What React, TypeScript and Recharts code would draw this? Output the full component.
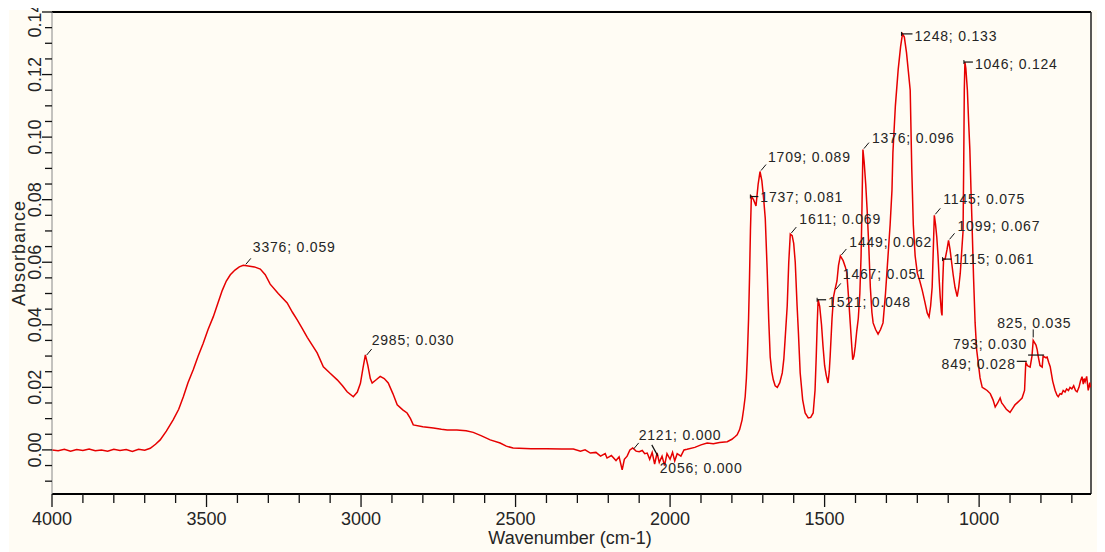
import React from "react";
import { ComposedChart, Line, Scatter, XAxis, YAxis, ReferenceLine } from "recharts";

// ---- Spectrum data (wavenumber cm-1 / absorbance) ----
const wavenumbers = [
  4000, 3980, 3960, 3940, 3920, 3900, 3880, 3860, 3840, 3820,
  3800, 3780, 3760, 3740, 3720, 3700, 3682, 3665, 3650, 3630,
  3608, 3590, 3575, 3560, 3543, 3527, 3511, 3495, 3478, 3463,
  3449, 3436, 3423, 3408, 3394, 3381, 3365, 3345, 3326, 3310,
  3294, 3268, 3239, 3222, 3206, 3190, 3174, 3158, 3142, 3122,
  3100, 3077, 3060, 3045, 3025, 3012, 3002, 2994, 2986, 2978,
  2970, 2964, 2950, 2938, 2925, 2912, 2897, 2883, 2865, 2851,
  2840, 2831, 2800, 2766, 2740, 2721, 2690, 2660, 2637, 2610,
  2582, 2550, 2530, 2508, 2450, 2400, 2350, 2313, 2290, 2275,
  2258, 2240, 2225, 2210, 2204, 2190, 2175, 2165, 2155, 2148,
  2139, 2130, 2121, 2110, 2100, 2090, 2082, 2074, 2066, 2058,
  2050, 2042, 2035, 2026, 2018, 2010, 2000, 1992, 1985, 1977,
  1965, 1955, 1945, 1920, 1900, 1880, 1860, 1840, 1815, 1800,
  1790, 1783, 1775, 1767, 1762, 1757, 1753, 1750, 1746, 1743,
  1740, 1737, 1730, 1722, 1715, 1709, 1703, 1697, 1692, 1686,
  1681, 1676, 1671, 1666, 1660, 1653, 1645, 1637, 1632, 1628,
  1621, 1616, 1611, 1605, 1600, 1595, 1589, 1585, 1579, 1571,
  1563, 1553, 1545, 1537, 1531, 1527, 1524, 1521, 1516, 1510,
  1505, 1500, 1495, 1489, 1485, 1482, 1476, 1471, 1467, 1460,
  1455, 1449, 1440, 1433, 1428, 1422, 1417, 1412, 1409, 1405,
  1401, 1396, 1391, 1386, 1382, 1379, 1376, 1372, 1367, 1362,
  1357, 1352, 1347, 1343, 1335, 1327, 1319, 1311, 1303, 1295,
  1288, 1282, 1279, 1271, 1262, 1254, 1248, 1242, 1235, 1229,
  1223, 1218, 1213, 1207, 1200, 1192, 1184, 1176, 1168, 1162,
  1157, 1152, 1148, 1145, 1141, 1137, 1133, 1129, 1126, 1122,
  1120, 1118, 1115, 1110, 1104, 1099, 1094, 1089, 1084, 1078,
  1071, 1066, 1061, 1056, 1052, 1050, 1048, 1046, 1043, 1038,
  1034, 1030, 1026, 1023, 1018, 1013, 1008, 1003, 997, 990,
  982, 974, 964, 955, 948, 940, 932, 927, 922, 912,
  900, 892, 884, 872, 861, 853, 849, 844, 841, 835,
  829, 825, 816, 812, 809, 803, 796, 793, 785, 780,
  775, 770, 762, 754, 748, 744, 738, 733, 728, 722,
  717, 711, 706, 700, 694, 688, 683, 677, 672, 667,
  663, 660, 657, 652, 647, 642, 640,
];

const absorbance = [
  0.0000, -0.0003, 0.0002, -0.0004, 0.0001, -0.0002, 0.0003, -0.0003, 0.0000, -0.0004,
  0.0002, -0.0002, 0.0001, -0.0005, 0.0002, -0.0001, 0.0005, 0.0018, 0.0032, 0.0060,
  0.0096, 0.0130, 0.0170, 0.0215, 0.0256, 0.0300, 0.0340, 0.0385, 0.0426, 0.0470,
  0.0510, 0.0540, 0.0560, 0.0575, 0.0585, 0.0590, 0.0588, 0.0585, 0.0578, 0.0560,
  0.0530, 0.0500, 0.0470, 0.0440, 0.0415, 0.0388, 0.0360, 0.0335, 0.0310, 0.0266,
  0.0245, 0.0224, 0.0205, 0.0186, 0.0170, 0.0185, 0.0213, 0.0260, 0.0304, 0.0270,
  0.0228, 0.0214, 0.0225, 0.0235, 0.0228, 0.0214, 0.0180, 0.0144, 0.0128, 0.0118,
  0.0100, 0.0080, 0.0074, 0.0070, 0.0066, 0.0064, 0.0064, 0.0061, 0.0056, 0.0045,
  0.0032, 0.0022, 0.0012, 0.0006, 0.0004, 0.0004, 0.0003, 0.0003, -0.0004, 0.0000,
  -0.0010, -0.0008, -0.0020, -0.0012, -0.0026, -0.0018, -0.0034, -0.0022, -0.0064, -0.0030,
  -0.0020, 0.0000, 0.0006, -0.0004, -0.0006, -0.0002, -0.0012, -0.0010, -0.0030, -0.0008,
  -0.0045, -0.0010, -0.0040, -0.0020, -0.0050, -0.0012, -0.0030, -0.0008, -0.0035, -0.0012,
  -0.0020, 0.0000, 0.0002, 0.0008, 0.0016, 0.0022, 0.0020, 0.0024, 0.0026, 0.0034,
  0.0042, 0.0048, 0.0065, 0.0096, 0.0130, 0.0170, 0.0230, 0.0300, 0.0420, 0.0550,
  0.0700, 0.0810, 0.0800, 0.0780, 0.0850, 0.0890, 0.0860, 0.0800, 0.0740, 0.0580,
  0.0420, 0.0297, 0.0250, 0.0224, 0.0205, 0.0200, 0.0215, 0.0246, 0.0290, 0.0350,
  0.0460, 0.0600, 0.0690, 0.0685, 0.0660, 0.0600, 0.0460, 0.0380, 0.0246, 0.0160,
  0.0118, 0.0102, 0.0104, 0.0118, 0.0190, 0.0300, 0.0400, 0.0480, 0.0460, 0.0400,
  0.0330, 0.0270, 0.0240, 0.0214, 0.0250, 0.0300, 0.0420, 0.0490, 0.0510, 0.0540,
  0.0590, 0.0620, 0.0605, 0.0585, 0.0565, 0.0480, 0.0405, 0.0330, 0.0288, 0.0300,
  0.0330, 0.0380, 0.0420, 0.0500, 0.0620, 0.0780, 0.0960, 0.0920, 0.0850, 0.0760,
  0.0650, 0.0520, 0.0440, 0.0406, 0.0385, 0.0370, 0.0385, 0.0406, 0.0500, 0.0617,
  0.0720, 0.0830, 0.0950, 0.1100, 0.1215, 0.1290, 0.1330, 0.1320, 0.1270, 0.1210,
  0.1150, 0.0900, 0.0720, 0.0620, 0.0565, 0.0540, 0.0510, 0.0475, 0.0438, 0.0425,
  0.0460, 0.0520, 0.0650, 0.0750, 0.0720, 0.0680, 0.0620, 0.0540, 0.0490, 0.0440,
  0.0430, 0.0530, 0.0610, 0.0610, 0.0640, 0.0670, 0.0640, 0.0600, 0.0560, 0.0520,
  0.0490, 0.0520, 0.0565, 0.0640, 0.0700, 0.0900, 0.1150, 0.1240, 0.1220, 0.1150,
  0.1050, 0.0960, 0.0820, 0.0725, 0.0550, 0.0406, 0.0320, 0.0280, 0.0230, 0.0200,
  0.0195, 0.0190, 0.0180, 0.0160, 0.0137, 0.0150, 0.0166, 0.0150, 0.0144, 0.0130,
  0.0120, 0.0132, 0.0144, 0.0155, 0.0166, 0.0190, 0.0280, 0.0270, 0.0268, 0.0265,
  0.0300, 0.0350, 0.0335, 0.0320, 0.0300, 0.0270, 0.0265, 0.0300, 0.0295, 0.0297,
  0.0280, 0.0266, 0.0220, 0.0190, 0.0175, 0.0170, 0.0180, 0.0178, 0.0190, 0.0185,
  0.0195, 0.0190, 0.0200, 0.0195, 0.0205, 0.0190, 0.0186, 0.0200, 0.0220, 0.0234,
  0.0210, 0.0228, 0.0218, 0.0235, 0.0190, 0.0215, 0.0200,
];

// ---- Peak annotations ----
const peakWavenumbers = [3376, 2985, 2121, 2056, 1737, 1709, 1611, 1521, 1467, 1449, 1376, 1248, 1145, 1115, 1099, 1046, 849, 825, 793];
const peakAbsorbance = [0.059, 0.030, 0.000, 0.000, 0.081, 0.089, 0.069, 0.048, 0.051, 0.062, 0.096, 0.133, 0.075, 0.061, 0.067, 0.124, 0.028, 0.035, 0.030];
const peakLabels = [
  "3376; 0.059", "2985; 0.030", "2121; 0.000", "2056; 0.000", "1737; 0.081",
  "1709; 0.089", "1611; 0.069", "1521; 0.048", "1467; 0.051", "1449; 0.062",
  "1376; 0.096", "1248; 0.133", "1145; 0.075", "1115; 0.061", "1099; 0.067",
  "1046; 0.124", "849; 0.028", "825, 0.035", "793; 0.030",
];

// ---- Axis ticks ----
const xTicks = [4000, 3900, 3800, 3700, 3600, 3500, 3400, 3300, 3200, 3100, 3000, 2900, 2800, 2700, 2600, 2500, 2400, 2300, 2200, 2100, 2000, 1900, 1800, 1700, 1600, 1500, 1400, 1300, 1200, 1100, 1000, 900, 800, 700];
const xLabelTicks = [4000, 3500, 3000, 2500, 2000, 1500, 1000];
const yTicks = [-0.01, -0.005, 0, 0.005, 0.01, 0.015, 0.02, 0.025, 0.03, 0.035, 0.04, 0.045, 0.05, 0.055, 0.06, 0.065, 0.07, 0.075, 0.08, 0.085, 0.09, 0.095, 0.1, 0.105, 0.11, 0.115, 0.12, 0.125, 0.13, 0.135, 0.14];
const yLabelTicks = ["0.00", "0.02", "0.04", "0.06", "0.08", "0.10", "0.12", "0.14"];

const spectrum = wavenumbers.map((wn, i) => ({ wn, abs: absorbance[i] }));
const peaks = peakWavenumbers.map((wn, i) => ({ wn, abs: peakAbsorbance[i], label: peakLabels[i] }));

// layout of annotation text relative to its point (not data)
const peakLayout: Record<string, { dx: number; dy: number; anchor: string; mark: string }> = {
  "3376; 0.059": { dx: 8, dy: -18, anchor: "start", mark: "diag" },
  "2985; 0.030": { dx: 6, dy: -16, anchor: "start", mark: "diag" },
  "2121; 0.000": { dx: 6, dy: -15, anchor: "start", mark: "diag" },
  "2056; 0.000": { dx: 7, dy: 18, anchor: "start", mark: "diagDown" },
  "1737; 0.081": { dx: 9, dy: 0, anchor: "start", mark: "hline" },
  "1709; 0.089": { dx: 8, dy: -15, anchor: "start", mark: "diag" },
  "1611; 0.069": { dx: 9, dy: -15, anchor: "start", mark: "diag" },
  "1521; 0.048": { dx: 10, dy: 2, anchor: "start", mark: "hline" },
  "1467; 0.051": { dx: 8, dy: -16, anchor: "start", mark: "diag" },
  "1449; 0.062": { dx: 9, dy: -14, anchor: "start", mark: "diag" },
  "1376; 0.096": { dx: 9, dy: -12, anchor: "start", mark: "diag" },
  "1248; 0.133": { dx: 12, dy: 2, anchor: "start", mark: "hline" },
  "1145; 0.075": { dx: 9, dy: -16, anchor: "start", mark: "diag" },
  "1115; 0.061": { dx: 10, dy: 0, anchor: "start", mark: "hline" },
  "1099; 0.067": { dx: 9, dy: -14, anchor: "start", mark: "diag" },
  "1046; 0.124": { dx: 10, dy: 2, anchor: "start", mark: "hline" },
  "849; 0.028": { dx: -10, dy: 2, anchor: "end", mark: "hlineL" },
  "825, 0.035": { dx: -36, dy: -17, anchor: "start", mark: "vline" },
  "793; 0.030": { dx: -16, dy: -12, anchor: "end", mark: "hlineL" },
};

const FONT = "'Liberation Sans', Arial, sans-serif";
const TEXT = "#252525";

const PeakMark = (props: any) => {
  const { cx, cy, payload } = props;
  if (cx == null || cy == null || !payload) return <g />;
  const lay = peakLayout[payload.label];
  if (!lay) return <g />;
  let mark: React.ReactNode = null;
  if (lay.mark === "diag") {
    mark = <line x1={cx + 1} y1={cy - 1} x2={cx + 6} y2={cy - 7} stroke="#111" strokeWidth={1} />;
  } else if (lay.mark === "diagDown") {
    mark = <line x1={cx - 1} y1={cy - 5} x2={cx + 5} y2={cy + 6} stroke="#111" strokeWidth={1.2} />;
  } else if (lay.mark === "hline") {
    mark = (
      <g>
        <line x1={cx - 1} y1={cy} x2={cx + lay.dx - 2} y2={cy} stroke="#111" strokeWidth={1.2} />
        <line x1={cx - 1} y1={cy - 2} x2={cx - 1} y2={cy + 2} stroke="#111" strokeWidth={1} />
      </g>
    );
  } else if (lay.mark === "hlineL") {
    mark = <line x1={cx + lay.dx + 1} y1={cy - 1} x2={cx + 1} y2={cy - 1} stroke="#111" strokeWidth={1.2} />;
  } else if (lay.mark === "vline") {
    mark = <line x1={cx} y1={cy - 3} x2={cx} y2={cy - 11} stroke="#111" strokeWidth={1} />;
  }
  return (
    <g>
      {mark}
      <text
        x={cx + lay.dx}
        y={cy + lay.dy}
        textAnchor={lay.anchor as any}
        dominantBaseline="central"
        fontFamily={FONT}
        fontSize={14}
        letterSpacing={0.8}
        fill={TEXT}
      >
        {payload.label}
      </text>
    </g>
  );
};

const XTick = (props: any) => {
  const { x, y, payload } = props;
  const v = payload.value;
  const major = xLabelTicks.includes(v);
  return (
    <g>
      <line x1={x} y1={y} x2={x} y2={y + (major ? 13 : 9)} stroke="#111" strokeWidth={1.3} />
      {major && (
        <text x={x} y={y + 31} textAnchor="middle" fontFamily={FONT} fontSize={18} fill={TEXT}>
          {v}
        </text>
      )}
    </g>
  );
};

const YTick = (props: any) => {
  const { x, y, payload } = props;
  const v = payload.value;
  const label = v.toFixed(2);
  const major = yLabelTicks.includes(label) && Math.abs(v * 50 - Math.round(v * 50)) < 1e-6;
  const cx = x - 17;
  // the top label sits against the frame edge, as in the reference
  const cy = label === "0.14" ? y + 8 : y;
  return (
    <g>
      <line x1={x} y1={y} x2={x - (major ? 10 : 7)} y2={y} stroke="#111" strokeWidth={1.3} />
      {major && (
        <text
          x={cx}
          y={cy}
          transform={`rotate(-90, ${cx}, ${cy})`}
          textAnchor="middle"
          dominantBaseline="central"
          fontFamily={FONT}
          fontSize={18}
          fill={TEXT}
        >
          {label}
        </text>
      )}
    </g>
  );
};

export default function App() {
  return (
    <div style={{ position: "relative", width: 1097, height: 544 }}>
      <div style={{ position: "absolute", left: 1, top: 2, width: 1096, height: 542, background: "#fffcf4" }} />
      <div style={{ position: "absolute", left: 0, top: 0 }}>
        <ComposedChart width={1097} height={544} margin={{ top: 4, right: 14, left: 0, bottom: 0 }}>
          <XAxis
            type="number"
            dataKey="wn"
            domain={[638, 4000]}
            reversed
            allowDataOverflow
            ticks={xTicks}
            tick={<XTick />}
            tickLine={false}
            tickSize={0}
            tickMargin={0}
            interval={0}
            height={58}
            axisLine={{ stroke: "#000", strokeWidth: 2 }}
          />
          <YAxis
            type="number"
            dataKey="abs"
            domain={[-0.0141, 0.14]}
            allowDataOverflow
            ticks={yTicks}
            tick={<YTick />}
            tickLine={false}
            tickSize={0}
            tickMargin={0}
            interval={0}
            width={44}
            axisLine={{ stroke: "#888", strokeWidth: 1 }}
          />
          <ReferenceLine y={0.14} stroke="#000" strokeWidth={2} />
          <ReferenceLine x={638} stroke="#222" strokeWidth={1.5} />
          <Line
            data={spectrum}
            dataKey="abs"
            type="linear"
            stroke="#e60000"
            strokeWidth={1.5}
            dot={false}
            isAnimationActive={false}
          />
          <Scatter data={peaks} dataKey="abs" shape={<PeakMark />} isAnimationActive={false} />
        </ComposedChart>
      </div>
      <svg width={1097} height={544} style={{ position: "absolute", left: 0, top: 0, pointerEvents: "none" }}>
        <text x={562} y={536} textAnchor="middle" fontFamily={FONT} fontSize={18} fill={TEXT}>
          Wavenumber (cm-1)
        </text>
        <text
          x={17}
          y={245}
          transform="rotate(-90, 17, 245)"
          textAnchor="middle"
          fontFamily={FONT}
          fontSize={18}
          letterSpacing={1}
          fill={TEXT}
        >
          Absorbance
        </text>
      </svg>
    </div>
  );
}
